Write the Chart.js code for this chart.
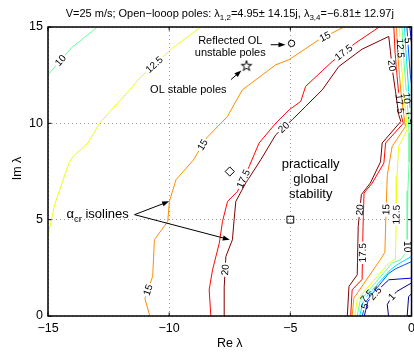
<!DOCTYPE html>
<html>
<head>
<meta charset="utf-8">
<script src="https://cdn.jsdelivr.net/npm/chart.js@4/dist/chart.umd.min.js"></script>
<style>
  html, body { margin: 0; padding: 0; background: #fff; overflow: hidden; }
  #wrap { width: 414px; height: 355px; overflow: hidden; }
  #c { display: block; }
</style>
</head>
<body>
<div id="wrap"><canvas id="c" width="420" height="355"></canvas></div>
<script>
// Contour levels of the critical gain alpha_cr
const levels = [1, 2.5, 5, 7.5, 10, 12.5, 15, 17.5, 20];

// Isoline branches as [Re, Im] pairs
const iso20 = [[-7.73,0],[-7.73,1.5],[-7.66,3.09],[-7.39,3.96],[-7.32,5.0],[-7.25,5.95],[-6.84,6.9],[-6.22,8.11],[-5.6,9.41],[-4.92,10.19],[-4.37,10.88],[-3.68,11.74],[-3.0,12.95],[-2.04,13.85],[-0.94,14.51],[-0.87,13.73],[-0.8,12.87],[-0.66,11.65],[-0.53,10.45],[-0.44,10.1],[-1.21,8.98],[-1.28,8.0],[-1.7,6.9],[-2.07,6.3],[-2.2,4.65],[-2.24,2.14],[-2.58,1.54],[-2.65,0]];
const iso17_5 = [[-8.28,0],[-8.35,1.36],[-8.21,2.4],[-7.93,3.79],[-7.8,4.91],[-7.59,5.95],[-7.18,6.47],[-6.7,7.76],[-6.29,8.98],[-5.6,10.01],[-5.05,10.7],[-4.57,11.14],[-4.37,11.92],[-3.27,13.21],[-2.31,14.17],[-1.33,15.0],[-1.0,15.4],[-0.73,15.0],[-0.68,13.7],[-0.6,12.5],[-0.52,11.4],[-0.43,10.45],[-0.34,10.0],[-1.07,8.98],[-1.14,7.94],[-1.62,6.9],[-1.96,6.38],[-2.0,4.65],[-2.04,1.9],[-2.45,1.36],[-2.51,0]];
const iso15a = [[-10.8,0],[-11.0,0.9],[-10.68,2.06],[-10.61,3.96],[-10.06,4.91],[-9.99,5.95],[-9.72,7.07],[-9.0,8.1],[-8.45,9.25],[-7.95,9.9],[-7.6,10.35],[-6.98,11.74],[-5.6,13.04],[-5.06,13.3],[-3.82,14.34],[-2.79,15.0],[-2.5,15.2]];
const iso15b = [[-0.62,15.2],[-0.62,15],[-0.57,13.7],[-0.5,12.5],[-0.42,11.4],[-0.32,10.45],[-0.25,9.84],[-0.8,8.8],[-1.0,7.3],[-1.05,5.5],[-1.1,3.3],[-1.3,2.9],[-2.38,0.93],[-2.45,0]];
const iso12_5a = [[-15.1,4.0],[-15,4.2],[-14.72,5.8],[-14.14,7.93],[-13.97,8.28],[-13.35,8.98],[-12.87,10.02],[-11.5,11.92],[-11.22,12.35],[-9.86,13.91],[-8.69,15],[-8.5,15.2]];
const iso12_5b = [[-0.5,15.2],[-0.5,15],[-0.45,13.7],[-0.38,12.5],[-0.31,11.4],[-0.23,10.45],[-0.18,9.66],[-0.53,8.8],[-0.6,7.24],[-0.63,5.0],[-0.66,3.27],[-0.66,2.95],[-0.94,2.75],[-2.24,0.85],[-2.34,0]];
const iso10a = [[-15.1,12.38],[-15,12.52],[-14.04,13.91],[-13.01,14.95],[-12.9,15.2]];
const iso10b = [[-0.39,15.2],[-0.39,15],[-0.34,13.7],[-0.27,12.5],[-0.2,11.4],[-0.14,10.45],[-0.1,9.5],[-0.1,8.0],[-0.15,6.5],[-0.18,5.0],[-0.18,3.35],[-0.46,2.92],[-0.8,2.75],[-2.12,0.8],[-2.24,0]];
const iso7_5a = [[-0.29,15.2],[-0.29,15],[-0.23,13.7],[-0.16,12.5],[-0.1,11.4],[-0.05,10.45],[0.05,10.2]];
const iso7_5b = [[0.05,3.12],[0,3.09],[-0.6,2.66],[-0.87,2.4],[-1.97,0.85],[-2.14,0]];
const iso5a = [[-0.19,15.2],[-0.19,15],[-0.12,13.7],[-0.05,12.5],[0.05,11.6]];
const iso5b = [[0.05,2.85],[-0.66,2.45],[-0.95,2.2],[-1.85,0.8],[-2.04,0]];
const iso2_5a = [[-0.07,15.2],[-0.07,15],[0.05,13.6]];
const iso2_5b = [[0.05,1.97],[-0.94,1.88],[-1.3,1.45],[-1.8,0.76],[-1.95,0]];
const iso1a = [[0.05,1.75],[-0.6,1.28],[-0.81,1.0],[-1.0,0.6],[-0.95,0]];
const iso1b = [[0.05,1.22],[-0.12,1.0],[-0.18,0]];

const isolines = [
  {level: 20, pts: iso20},
  {level: 17.5, pts: iso17_5},
  {level: 15, pts: iso15a}, {level: 15, pts: iso15b},
  {level: 12.5, pts: iso12_5a}, {level: 12.5, pts: iso12_5b},
  {level: 10, pts: iso10a}, {level: 10, pts: iso10b},
  {level: 7.5, pts: iso7_5a}, {level: 7.5, pts: iso7_5b},
  {level: 5, pts: iso5a}, {level: 5, pts: iso5b},
  {level: 2.5, pts: iso2_5a}, {level: 2.5, pts: iso2_5b},
  {level: 1, pts: iso1a}, {level: 1, pts: iso1b}
];

// Poles and test points
const poleReflected = [-4.95, 14.15];
const poleStable = [-6.81, 12.97];
const pointDiamond = [-7.5, 7.5];
const pointSquare = [-5, 5];

// Axis ticks
const xTicks = [-15, -10, -5, 0];
const yTicks = [0, 5, 10, 15];

// Where the inline level labels sit: [level, Re, Im]
const isoLabelSpots = [
  [10, -14.52, 13.3], [12.5, -10.61, 13.04], [15, -3.54, 14.43], [15, -8.63, 8.89], [15, -10.9, 1.37],
  [17.5, -2.79, 13.66], [17.5, -6.9, 7.1], [20, -5.26, 9.77], [20, -7.7, 2.4],
  [20, -2.24, 5.52], [17.5, -2.0, 3.28], [15, -1.08, 5.52], [12.5, -0.62, 5.26], [10, -0.2, 3.6],
  [7.5, -2.0, 1.2], [5, -1.9, 0.5], [2.5, -1.56, 1.25], [1, -0.81, 1.0],
  [20, -0.8, 13.0], [12.5, -0.45, 13.9], [5, -0.14, 14.3], [10, -0.2, 11.3], [17.5, -0.55, 11.0], [7.5, -0.08, 10.3]
];

const title = [['V=25 m/s; Open\u2212looop poles: \u03bb', 0], ['1,2', 1], ['=4.95\u00b1 14.15j, \u03bb', 0], ['3,4', 1], ['=\u22126.81\u00b1 12.97j', 0]];

const notes = [
  {text: 'Reflected OL', re: -7.48, im: 14.25, size: 11},
  {text: 'unstable poles', re: -7.48, im: 13.63, size: 11},
  {text: 'OL stable poles', re: -9.21, im: 11.75, size: 11},
  {text: 'practically', re: -4.16, im: 7.85, size: 13},
  {text: 'global', re: -4.16, im: 7.08, size: 13},
  {text: 'stability', re: -4.16, im: 6.3, size: 13}
];
const arrows = [
  [-5.81, 14.08, -5.2, 14.08],
  [-7.45, 12.27, -7.02, 12.74],
  [-11.43, 5.26, -10.0, 5.95],
  [-11.43, 5.26, -7.5, 3.96]
];

const fontFam = '"Liberation Sans", Arial, Helvetica, sans-serif';

function jet(level) {
  const t = (level - levels[0]) / (levels[levels.length - 1] - levels[0]);
  const c = v => Math.round(255 * Math.max(0, Math.min(1, v)));
  const r = Math.min(4 * t - 1.5, -4 * t + 4.5);
  const g = Math.min(4 * t - 0.5, -4 * t + 3.5);
  const b = Math.min(4 * t + 0.5, -4 * t + 2.5);
  return `rgb(${c(r)},${c(g)},${c(b)})`;
}

// five-pointed outline star used as a point style
function pentagram(R) {
  const cv = document.createElement('canvas');
  const s = Math.ceil(2 * R + 3);
  cv.width = s; cv.height = s;
  const g = cv.getContext('2d');
  const r = R * 0.382;
  g.beginPath();
  for (let i = 0; i < 10; i++) {
    const rad = i % 2 ? r : R;
    const a = -Math.PI / 2 + i * Math.PI / 5;
    const px = s / 2 + rad * Math.cos(a), py = s / 2 + rad * Math.sin(a);
    if (i) g.lineTo(px, py); else g.moveTo(px, py);
  }
  g.closePath();
  g.strokeStyle = '#000'; g.lineWidth = 1; g.stroke();
  return cv;
}

const fmt = v => String(v).replace('-', '\u2212');

function strokeIso(ctx, c, xs, ys) {
  ctx.beginPath();
  c.pts.forEach((p, i) => {
    const px = xs.getPixelForValue(p[0]), py = ys.getPixelForValue(p[1]);
    if (i) ctx.lineTo(px, py); else ctx.moveTo(px, py);
  });
  ctx.strokeStyle = jet(c.level);
  ctx.lineWidth = 1;
  ctx.stroke();
}

function richText(ctx, parts, x, y, size, subSize, align) {
  const widths = parts.map(([t, sub]) => { ctx.font = `${sub ? subSize : size}px ${fontFam}`; return ctx.measureText(t).width; });
  const total = widths.reduce((a, b) => a + b, 0);
  let cx = align === 'center' ? x - total / 2 : x;
  ctx.textAlign = 'left';
  ctx.textBaseline = 'alphabetic';
  parts.forEach(([t, sub], i) => {
    ctx.font = `${sub ? subSize : size}px ${fontFam}`;
    ctx.fillText(t, cx, y + (sub ? size * 0.3 : 0));
    cx += widths[i];
  });
}

function arrow(ctx, x0, y0, x1, y1) {
  const a = Math.atan2(y1 - y0, x1 - x0), L = 7, W = 2.6;
  ctx.beginPath(); ctx.moveTo(x0, y0); ctx.lineTo(x1 - L * 0.8 * Math.cos(a), y1 - L * 0.8 * Math.sin(a));
  ctx.strokeStyle = '#000'; ctx.lineWidth = 1; ctx.stroke();
  ctx.beginPath();
  ctx.moveTo(x1, y1);
  ctx.lineTo(x1 - L * Math.cos(a) + W * Math.sin(a), y1 - L * Math.sin(a) - W * Math.cos(a));
  ctx.lineTo(x1 - L * Math.cos(a) - W * Math.sin(a), y1 - L * Math.sin(a) + W * Math.cos(a));
  ctx.closePath(); ctx.fillStyle = '#000'; ctx.fill();
}

const decor = {
  id: 'decor',
  afterDatasetsDraw(chart) {
    const {ctx, chartArea: a, scales: {x, y}} = chart;
    ctx.save();
    ctx.beginPath(); ctx.rect(a.left, a.top, a.width, a.height); ctx.clip();
    ctx.font = `10px ${fontFam}`;
    isoLabelSpots.forEach(([lev, re, im]) => {
      const tx = x.getPixelForValue(re), ty = y.getPixelForValue(im);
      let best = null;
      isolines.forEach((c, ci) => {
        if (c.level !== lev) return;
        for (let i = 0; i < c.pts.length - 1; i++) {
          const ax = x.getPixelForValue(c.pts[i][0]), ay = y.getPixelForValue(c.pts[i][1]);
          const bx = x.getPixelForValue(c.pts[i + 1][0]), by = y.getPixelForValue(c.pts[i + 1][1]);
          const dx = bx - ax, dy = by - ay, L2 = dx * dx + dy * dy || 1;
          let u = ((tx - ax) * dx + (ty - ay) * dy) / L2;
          u = Math.max(0, Math.min(1, u));
          const px = ax + u * dx, py = ay + u * dy;
          const d = (px - tx) ** 2 + (py - ty) ** 2;
          if (!best || d < best.d) best = {d, px, py, ang: Math.atan2(dy, dx), ci};
        }
      });
      if (!best) return;
      let ang = best.ang;
      if (ang > Math.PI / 2) ang -= Math.PI;
      else if (ang <= -Math.PI / 2) ang += Math.PI;
      const text = String(lev);
      ctx.font = `10px ${fontFam}`;
      const w = ctx.measureText(text).width + 3, h = 9;
      // break the own line, keep the neighbours visible through the gap
      ctx.save();
      ctx.translate(best.px, best.py); ctx.rotate(ang);
      ctx.beginPath(); ctx.rect(-w / 2, -h / 2, w, h);
      ctx.fillStyle = '#fff'; ctx.fill(); ctx.clip();
      ctx.rotate(-ang); ctx.translate(-best.px, -best.py);
      isolines.forEach((c, ci) => { if (ci !== best.ci) strokeIso(ctx, c, x, y); });
      ctx.restore();
      ctx.save();
      ctx.translate(best.px, best.py); ctx.rotate(ang);
      ctx.fillStyle = '#000'; ctx.textAlign = 'center'; ctx.textBaseline = 'middle';
      ctx.fillText(text, 0, 0.5);
      ctx.restore();
    });
    ctx.restore();
  },
  afterDraw(chart) {
    const {ctx, chartArea: a, scales: {x, y}} = chart;
    ctx.save();
    // axes box with inward ticks
    ctx.strokeStyle = '#000'; ctx.lineWidth = 1.5;
    ctx.strokeRect(a.left, a.top, a.right - a.left, a.bottom - a.top);
    ctx.lineWidth = 1;
    ctx.beginPath();
    xTicks.forEach(v => {
      const px = x.getPixelForValue(v);
      ctx.moveTo(px, a.bottom); ctx.lineTo(px, a.bottom - 3.5);
      ctx.moveTo(px, a.top); ctx.lineTo(px, a.top + 3.5);
    });
    yTicks.forEach(v => {
      const py = y.getPixelForValue(v);
      ctx.moveTo(a.left, py); ctx.lineTo(a.left + 3.5, py);
      ctx.moveTo(a.right, py); ctx.lineTo(a.right - 3.5, py);
    });
    ctx.stroke();

    ctx.fillStyle = '#000';
    // title
    richText(ctx, title, (a.left + a.right) / 2, 17, 11, 8, 'center');
    // axis titles
    ctx.font = `12.5px ${fontFam}`;
    ctx.textAlign = 'center'; ctx.textBaseline = 'alphabetic';
    ctx.fillText('Re \u03bb', (a.left + a.right) / 2, 347);
    ctx.save();
    ctx.translate(21, (a.top + a.bottom) / 2 - 3);
    ctx.rotate(-Math.PI / 2);
    ctx.fillText('Im \u03bb', 0, 0);
    ctx.restore();

    // annotations
    notes.forEach(n => {
      ctx.font = `${n.size}px ${fontFam}`;
      ctx.textAlign = 'center'; ctx.textBaseline = 'middle';
      ctx.fillText(n.text, x.getPixelForValue(n.re), y.getPixelForValue(n.im));
    });
    richText(ctx, [['\u03b1', 0], ['cr', 1], [' isolines', 0]], x.getPixelForValue(-14.24), y.getPixelForValue(5.1), 13, 9.5, 'left');
    arrows.forEach(([r0, i0, r1, i1]) => arrow(ctx, x.getPixelForValue(r0), y.getPixelForValue(i0), x.getPixelForValue(r1), y.getPixelForValue(i1)));
    ctx.restore();
  }
};

const markerSets = [
  {data: [{x: poleReflected[0], y: poleReflected[1]}], pointStyle: 'circle', pointRadius: 3.2},
  {data: [{x: poleStable[0], y: poleStable[1]}], pointStyle: pentagram(5.5), pointRadius: 5},
  {data: [{x: pointDiamond[0], y: pointDiamond[1]}], pointStyle: 'rectRot', pointRadius: 4.6},
  {data: [{x: pointSquare[0], y: pointSquare[1]}], pointStyle: 'rect', pointRadius: 4.8}
].map(d => Object.assign(d, {showLine: false, borderColor: '#000', backgroundColor: 'rgba(0,0,0,0)', borderWidth: 1, clip: false}));

const lineSets = isolines.map(c => ({
  data: c.pts.map(p => ({x: p[0], y: p[1]})),
  showLine: true, borderColor: jet(c.level), borderWidth: 1, pointRadius: 0, tension: 0, fill: false
}));

Chart.defaults.font.family = fontFam;

const fixX = s => { s.height = 39; };
const fixY = s => { s.width = 48; };

// the canvas runs a few pixels past the page edge, so the right frame sits at the border
new Chart(document.getElementById('c'), {
  type: 'scatter',
  data: {datasets: markerSets.concat(lineSets)},
  options: {
    responsive: false,
    devicePixelRatio: 1,
    animation: false,
    events: [],
    layout: {padding: {top: 27, right: 7, left: 0, bottom: 0}},
    plugins: {legend: {display: false}, tooltip: {enabled: false}, title: {display: false}},
    scales: {
      x: {
        type: 'linear', min: -15, max: 0,
        afterBuildTicks: s => { s.ticks = xTicks.map(v => ({value: v})); },
        afterFit: fixX,
        grid: {color: '#a0a0a0', lineWidth: 1, drawTicks: false},
        border: {display: false, dash: [1, 3]},
        ticks: {color: '#000', font: {size: 12.5}, padding: 5, maxRotation: 0, callback: v => fmt(v)}
      },
      y: {
        type: 'linear', min: 0, max: 15,
        afterBuildTicks: s => { s.ticks = yTicks.map(v => ({value: v})); },
        afterFit: fixY,
        grid: {color: '#a0a0a0', lineWidth: 1, drawTicks: false},
        border: {display: false, dash: [1, 3]},
        ticks: {color: '#000', font: {size: 12.5}, padding: 5, callback: v => fmt(v)}
      }
    }
  },
  plugins: [decor]
});
</script>
</body>
</html>
